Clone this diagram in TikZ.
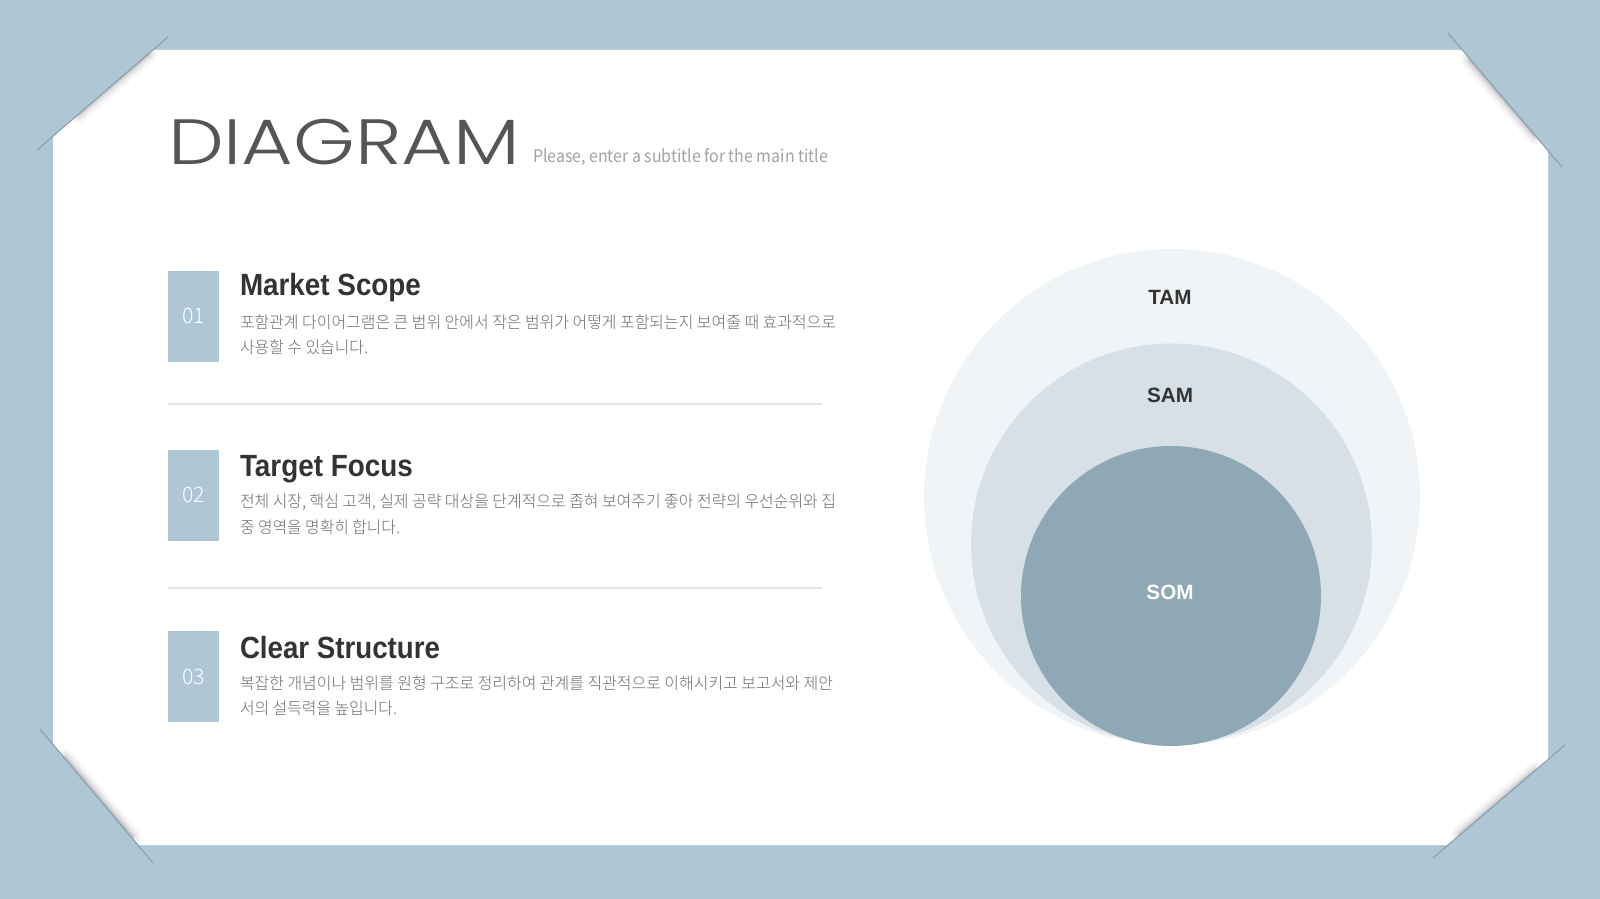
\documentclass[tikz,border=0pt]{standalone}
\usepackage{fontspec}
\usepackage{graphicx}
\newfontfamily\kr{Noto Sans CJK KR}
\newfontfamily\lat{Liberation Sans}
\IfFontExistsTF{Noto Sans CJK KR Light}{\newfontfamily\krlight{Noto Sans CJK KR Light}}{\newfontfamily\krlight{Noto Sans CJK KR}}
\IfFontExistsTF{Poppins Light}{\newfontfamily\ttlfont{Poppins Light}}{\newfontfamily\ttlfont{Poppins}}
\definecolor{bgblue}{HTML}{AFC7D5}
\definecolor{edgeline}{HTML}{8AA3B0}
\definecolor{tamc}{HTML}{F1F4F6}
\definecolor{samc}{HTML}{D6E0E6}
\definecolor{somc}{HTML}{8FA8B5}
\definecolor{titlegray}{HTML}{555555}
\definecolor{subgray}{HTML}{A3A3A3}
\definecolor{headc}{HTML}{333333}
\definecolor{bodyc}{HTML}{6E6E6E}
\definecolor{sepc}{HTML}{E3E3E3}
\newlength\pxu \setlength\pxu{0.75pt}
\newcommand\fitw[2]{\resizebox{#1\pxu}{\height}{#2}}
\tikzset{
  numbox/.style={fill=bgblue, minimum width=38.25pt, minimum height=68.25pt, text=white, font=\krlight\fontsize{16}{16}\selectfont},
  heading/.style={anchor=base west, text=headc, font=\lat\bfseries\fontsize{23}{23}\selectfont},
  bodyline/.style={anchor=base west, text=bodyc, font=\krlight\fontsize{12.4}{12.4}\selectfont},
  sepline/.style={sepc, line width=1.5pt},
  edge/.style={edgeline, line width=0.9pt},
  circlabel/.style={font=\lat\bfseries\fontsize{15.5}{15.5}\selectfont},
  ring/.style={circle, draw=none, inner sep=0pt}
}
\begin{document}
\begin{tikzpicture}[x=0.75pt,y=-0.75pt, every node/.append style={inner sep=0pt, outer sep=0pt}]
\useasboundingbox (0,0) rectangle (1600,899);
\fill[bgblue] (0,0) rectangle (1600,899);
% white panel
\path[fill=white] (153,50) -- (1462,50) -- (1548,150) -- (1548,760) -- (1448,845) -- (138,845) -- (53,744) -- (53,136) -- cycle;
% shadows along the cut corners
\begin{scope}
\clip (153,50) -- (1462,50) -- (1548,150) -- (1548,760) -- (1448,845) -- (138,845) -- (53,744) -- (53,136) -- cycle;
\coordinate (shA1) at (78,114); \coordinate (shA2) at (148,54);
\coordinate (shB1) at (1470,60); \coordinate (shB2) at (1535,135);
\coordinate (shC1) at (65,758); \coordinate (shC2) at (132,837);
\coordinate (shD1) at (1460,835); \coordinate (shD2) at (1535,771);
\foreach \w/\o in {18/0.03,12/0.05,7/0.07,3/0.10}{
  \draw[black, opacity=\o, line width=\w\pxu, line cap=round] (shA1) -- (shA2);
  \draw[black, opacity=\o, line width=\w\pxu, line cap=round] (shB1) -- (shB2);
  \draw[black, opacity=\o, line width=\w\pxu, line cap=round] (shC1) -- (shC2);
  \draw[black, opacity=\o, line width=\w\pxu, line cap=round] (shD1) -- (shD2);
}
\end{scope}
% corner fold lines
\coordinate (tla) at (37,150); \coordinate (tlb) at (168,37);
\coordinate (tra) at (1448,33); \coordinate (trb) at (1562,167);
\coordinate (bla) at (40,729); \coordinate (blb) at (153,863);
\coordinate (bra) at (1565,745); \coordinate (brb) at (1433,858);
\draw[edge] (tla) -- (tlb);
\draw[edge] (tra) -- (trb);
\draw[edge] (bla) -- (blb);
\draw[edge] (bra) -- (brb);
% title
\node[anchor=base west, text=titlegray, font=\ttlfont\fontsize{48}{48}\selectfont] (title) at (168,165) {\fitw{352}{DIAGRAM}};
\node[anchor=base west, text=subgray, font=\kr\fontsize{13}{13}\selectfont] (subtitle) at (533,162) {\fitw{295}{Please, enter a subtitle for the main title}};
% items
\node[numbox] (n1) at (193.5,316) {01};
\node[numbox] (n2) at (193.5,495) {02};
\node[numbox] (n3) at (193.5,676.5) {03};
\node[heading] (h1) at (240,295) {\fitw{181}{Market Scope}};
\node[heading] (h2) at (240,476) {\fitw{173}{Target Focus}};
\node[heading] (h3) at (240,658) {\fitw{200}{Clear Structure}};
\node[bodyline] (b1a) at (240,328) {\fitw{596}{포함관계 다이어그램은 큰 범위 안에서 작은 범위가 어떻게 포함되는지 보여줄 때 효과적으로}};
\node[bodyline] (b1b) at (240,353) {\fitw{128}{사용할 수 있습니다.}};
\node[bodyline] (b2a) at (240,507) {\fitw{596}{전체 시장, 핵심 고객, 실제 공략 대상을 단계적으로 좁혀 보여주기 좋아 전략의 우선순위와 집}};
\node[bodyline] (b2b) at (240,533) {\fitw{160}{중 영역을 명확히 합니다.}};
\node[bodyline] (b3a) at (240,689) {\fitw{593}{복잡한 개념이나 범위를 원형 구조로 정리하여 관계를 직관적으로 이해시키고 보고서와 제안}};
\node[bodyline] (b3b) at (240,714) {\fitw{157}{서의 설득력을 높입니다.}};
% separators
\coordinate (s1a) at (168,404); \coordinate (s1b) at (822,404);
\coordinate (s2a) at (168,588); \coordinate (s2b) at (822,588);
\draw[sepline] (s1a) -- (s1b);
\draw[sepline] (s2a) -- (s2b);
% circles
\node[ring, fill=tamc, minimum size=372pt] (tam) at (1172,497) {};
\node[ring, fill=samc, minimum size=300.75pt] (sam) at (1171.5,544) {};
\node[ring, fill=somc, minimum size=225pt] (som) at (1171,596) {};
\node[circlabel, text=headc] (tamlab) at (1170,297) {TAM};
\node[circlabel, text=headc] (samlab) at (1170,395) {SAM};
\node[circlabel, text=white] (somlab) at (1170,592) {SOM};
\end{tikzpicture}
\end{document}
